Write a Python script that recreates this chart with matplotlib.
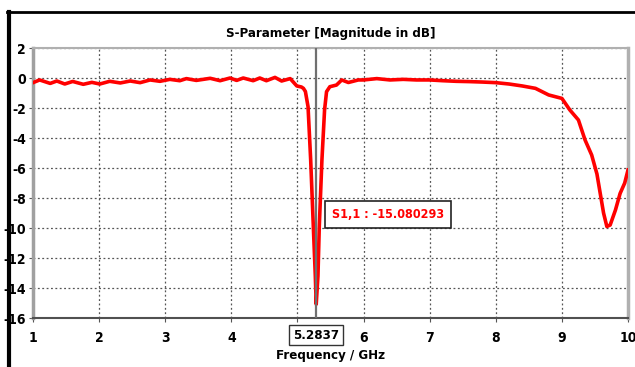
import numpy as np
import matplotlib.pyplot as plt
from matplotlib.transforms import blended_transform_factory
from matplotlib.lines import Line2D

plt.rcParams['font.family'] = ['DejaVu Sans']
plt.rcParams['font.stretch'] = 'condensed'
plt.rcParams['font.weight'] = 'bold'
plt.rcParams['axes.unicode_minus'] = False

# S11 trace
freq = [1.0, 1.1, 1.26, 1.36, 1.48, 1.6, 1.76, 1.89, 2.01, 2.16, 2.32, 2.47,
        2.62, 2.77, 2.92, 3.07, 3.22, 3.32, 3.47, 3.68, 3.83, 3.98, 4.08, 4.18,
        4.33, 4.43, 4.53, 4.66, 4.76, 4.89, 4.99, 5.06, 5.09, 5.12, 5.16, 5.20,
        5.24, 5.27, 5.2837, 5.31, 5.33, 5.37, 5.41, 5.44, 5.49, 5.59, 5.67, 5.77,
        5.92, 6.0, 6.2, 6.4, 6.6, 6.8, 7.0, 7.2, 7.4, 7.6, 7.8, 8.0, 8.2, 8.4,
        8.6, 8.8, 9.0, 9.12, 9.25, 9.35, 9.45, 9.53, 9.58, 9.63, 9.68, 9.73,
        9.81, 9.88, 9.95, 10.0]
s11 = [-0.31, -0.13, -0.36, -0.2, -0.4, -0.23, -0.42, -0.29, -0.4, -0.22, -0.33, -0.2,
       -0.31, -0.13, -0.22, -0.09, -0.18, -0.04, -0.16, -0.02, -0.18, 0.0, -0.16, 0.0,
       -0.18, 0.0, -0.18, 0.04, -0.2, -0.04, -0.53, -0.6, -0.69, -0.9, -1.91, -5.47,
       -9.9, -13.2, -15.08, -13.2, -9.9, -5.47, -2.13, -0.91, -0.58, -0.47, -0.13, -0.3,
       -0.13, -0.13, -0.04, -0.13, -0.09, -0.13, -0.13, -0.18, -0.22, -0.24, -0.27, -0.31, -0.4, -0.53,
       -0.69, -1.13, -1.36, -2.13, -2.8, -4.13, -5.13, -6.4, -7.7, -9.0, -9.9, -9.8,
       -8.8, -7.7, -7.0, -6.13]

marker_f = 5.2837
marker_val = -15.080293
xticks = [1, 2, 3, 4, 5, 6, 7, 8, 9, 10]
xticklabels = ['1', '2', '3', '4', '', '6', '7', '8', '9', '10']
yticks = list(range(-16, 3, 2))

fig = plt.figure(figsize=(6.35, 3.67), dpi=100)
ax = fig.add_axes([0.052, 0.1335, 0.937, 0.7357])

ax.plot(freq, s11, color='#ff0000', lw=2.6, solid_joinstyle='round', zorder=3)
ax.axvline(marker_f, color='#707070', lw=1.6, zorder=4)

ax.set_xlim(1, 10)
ax.set_ylim(-16, 2)
ax.set_xticks(xticks)
ax.set_xticklabels(xticklabels)
ax.set_yticks(yticks)
ax.grid(True, color='#555555', ls=(0, (1.5, 2.0)), lw=0.9)
ax.tick_params(axis='both', direction='out', length=3, color='#555555',
               labelsize=10, pad=2)
for lab in ax.get_xticklabels() + ax.get_yticklabels():
    lab.set_fontweight('bold')
ax.tick_params(axis='x', pad=6)

ax.spines['left'].set_color('#a0a0a0')
ax.spines['left'].set_linewidth(2.5)
ax.spines['bottom'].set_color('#505050')
ax.spines['bottom'].set_linewidth(1.5)
ax.spines['top'].set_color('#b0b0b0')
ax.spines['top'].set_linewidth(1.5)
ax.spines['right'].set_color('#b0b0b0')
ax.spines['right'].set_linewidth(2.5)

trans = blended_transform_factory(ax.transData, ax.transAxes)
ax.text(marker_f, -0.063, '{:.4f}'.format(marker_f), transform=trans,
        ha='center', va='center', fontsize=9.5, fontweight='bold',
        bbox=dict(boxstyle='square,pad=0.3', fc='white', ec='#333333', lw=1))

ax.text(5.52, -9.1, 'S1,1 : {:.6f}'.format(marker_val), color='#ff0000',
        ha='left', va='center', fontsize=9, fontweight='bold', zorder=5,
        bbox=dict(boxstyle='square,pad=0.55', fc='white', ec='#222222', lw=1.2))

ax.set_title('S-Parameter [Magnitude in dB]', fontsize=9.5, fontweight='bold', pad=8)
ax.set_xlabel('Frequency / GHz', fontsize=9.5, fontweight='bold', labelpad=3)

# window frame around the plot
fig.add_artist(Line2D([8.5 / 635, 8.5 / 635], [0, 1 - 12 / 367], color='black', lw=3,
                      transform=fig.transFigure))
fig.add_artist(Line2D([7 / 635, 1], [1 - 12 / 367, 1 - 12 / 367], color='black', lw=2,
                      transform=fig.transFigure))

fig.savefig('out.png', dpi=100)
